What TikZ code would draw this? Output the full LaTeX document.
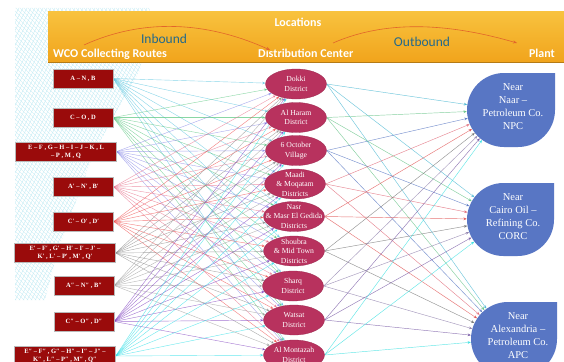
\documentclass[tikz,border=0pt]{standalone}
\usepackage{fontspec}
\setmainfont{Liberation Serif}
\newfontfamily\hdrfont{Carlito}
\usetikzlibrary{shapes.geometric,arrows.meta}
\pgfdeclarelayer{bglayer}
\pgfdeclarelayer{linelayer}
\pgfsetlayers{bglayer,linelayer,main}

\definecolor{boxred}{HTML}{9A0B0B}
\definecolor{ellred}{HTML}{B8325E}
\definecolor{plantblue}{HTML}{5876C4}
\definecolor{hdrtop}{HTML}{F8C23E}
\definecolor{hdrbot}{HTML}{F1A41C}
\definecolor{hdrteal}{HTML}{22698C}
\definecolor{curvec}{HTML}{E2652A}
\definecolor{hatchc}{HTML}{BDEAF4}
% route colours
\definecolor{c1}{HTML}{5CC6E0}
\definecolor{c2}{HTML}{5CC882}
\definecolor{c3}{HTML}{8C8CE8}
\definecolor{c4}{HTML}{E8708C}
\definecolor{c5}{HTML}{F04C4C}
\definecolor{c6}{HTML}{8A8A8A}
\definecolor{c7}{HTML}{9C9C9C}
\definecolor{c8}{HTML}{8040C0}
\definecolor{c9}{HTML}{30E0E8}
% distribution colours
\definecolor{e1}{HTML}{40B4D0}
\definecolor{e2}{HTML}{5EC080}
\definecolor{e3}{HTML}{5070C0}
\definecolor{e4}{HTML}{E06070}
\definecolor{e5}{HTML}{E04848}
\definecolor{e6}{HTML}{707070}
\definecolor{e7}{HTML}{8878A8}
\definecolor{e8}{HTML}{7050A0}
\definecolor{e9}{HTML}{30E0E0}

\newcommand\distnode[4]{%
  \node[distell] (#1) at (#2,#3) {};
  \node[disttext] (#1t) at (#2,#3) {#4};}

\begin{document}
\begin{tikzpicture}[x=1pt,y=1pt,
  routebox/.style={draw=gray!55, line width=0.4pt, fill=boxred, text=white,
    minimum height=19, inner sep=1pt, align=center,
    font=\fontsize{6.5}{8}\selectfont\bfseries},
  shortbox/.style={routebox, minimum width=60},
  widebox/.style={routebox, minimum width=101},
  distell/.style={ellipse, fill=ellred, draw=ellred!85!black, line width=0.3pt,
    minimum width=61, minimum height=30, inner sep=0},
  disttext/.style={text=white, align=center, font=\fontsize{7.7}{9.5}\selectfont, inner sep=0},
  plantanchor/.style={circle, inner sep=0},
  planttext/.style={text=white, align=center, font=\fontsize{10.5}{13}\selectfont, inner sep=0},
  hdrlabel/.style={text=white, font=\hdrfont\bfseries\fontsize{12}{14}\selectfont, inner sep=0},
  hdrflow/.style={text=hdrteal, font=\hdrfont\fontsize{13.5}{15}\selectfont, inner sep=0},
  hatchline/.style={draw=hatchc, line width=0.3pt},
  curvearrow/.style={draw=curvec, line width=0.6pt, -{Stealth[length=4pt,width=3pt]}},
  inlink/.style={line width=0.4pt, opacity=0.72, -{Stealth[length=3.2pt,width=2.6pt]}},
  outlink/.style={line width=0.45pt, opacity=0.75, -{Stealth[length=3.4pt,width=2.8pt]}}
]
\clip (0,0) rectangle (564,-361);
\useasboundingbox (0,0) rectangle (564,-361);

\begin{pgfonlayer}{bglayer}
  \fill[white] (0,0) rectangle (564,-361);
  % decorative hatch
  \begin{scope}
    \clip (15,-8) -- (150,-8) -- (140,-70) -- (95,-150) -- (58,-250) -- (45,-300) -- (15,-300) -- cycle;
    \foreach \i in {-320,-316,...,160} \draw[hatchline] (\i,-8) -- ++(300,-300);
    \foreach \i in {15,19,...,480} \draw[hatchline] (\i,-8) -- ++(-160,-300);
  \end{scope}
  % header bar
  \shade[top color=hdrtop, bottom color=hdrbot] (48,-12) rectangle (564,-62);
  \draw[hdrbot!75!black, line width=0.8pt] (48,-62.4) -- (564,-62.4);
\end{pgfonlayer}

% header texts
\node[hdrlabel] (loc) at (298,-22.5) {Locations};
\node[hdrlabel, anchor=base west] (wco) at (53,-57) {WCO Collecting Routes};
\node[hdrlabel, anchor=base west] (dc) at (258,-57) {Distribution Center};
\node[hdrlabel, anchor=base east] (pl) at (555,-57) {Plant};
\node[hdrflow] (inb) at (164,-39) {Inbound};
\node[hdrflow] (outb) at (422,-42) {Outbound};
\coordinate (ia) at (84,-45);
\coordinate (ib) at (270,-50);
\coordinate (oa) at (333,-43);
\coordinate (ob) at (517,-43);
\draw[curvearrow] (ia) .. controls (150,-15) and (215,-25) .. (ib);
\draw[curvearrow] (oa) .. controls (390,-18) and (455,-25) .. (ob);

% route boxes
\node[shortbox] (r1) at (83,-78.5) {A – N , B};
\node[shortbox] (r2) at (83,-117.5) {C – O , D};
\node[widebox]  (r3) at (66,-151.5) {E – F , G – H – I – J – K , L\\– P , M , Q};
\node[shortbox] (r4) at (83.5,-187) {A′ – N′ , B′};
\node[shortbox] (r5) at (83.5,-221.5) {C′ – O′ , D′};
\node[widebox]  (r6) at (65,-253) {E′ – F′ , G′ – H′ – I′ – J′ –\\K′ , L′ – P′ , M′ , Q′};
\node[shortbox] (r7) at (84,-285.5) {A″ – N″ , B″};
\node[shortbox] (r8) at (84,-321.5) {C″ – O″ , D″};
\node[widebox]  (r9) at (65,-356) {E″ – F″ , G″ – H″ – I″ – J″ –\\K″ , L″ – P″ , M″ , Q″};

% distribution centres
\distnode{d1}{296}{-84}{Dokki\\District}
\distnode{d2}{296}{-117.5}{Al Haram\\District}
\distnode{d3}{296}{-150.5}{6 October\\Village}
\distnode{d4}{295}{-184}{Maadi\\\& Moqatam\\Districts}
\distnode{d5}{294}{-216.5}{Nasr\\\& Masr El Gedida\\Districts}
\distnode{d6}{294}{-251}{Shoubra\\\& Mid Town\\Districts}
\distnode{d7}{293}{-286}{Sharq\\District}
\distnode{d8}{294}{-320}{Watsat\\District}
\distnode{d9}{294}{-355}{Al Montazah\\District}

% plants
\fill[plantblue] (555,-73) -- (555,-110) arc[start angle=0,end angle=-90,radius=37]
  -- (504,-147) arc[start angle=270,end angle=180,radius=37]
  arc[start angle=180,end angle=90,radius=37] -- cycle;
\fill[plantblue] (554,-183) -- (554,-219.5) arc[start angle=0,end angle=-90,radius=36.5]
  -- (503.5,-256) arc[start angle=270,end angle=180,radius=36.5]
  arc[start angle=180,end angle=90,radius=36.5] -- cycle;
\fill[plantblue] (557,-302) -- (557,-339) arc[start angle=0,end angle=-90,radius=37]
  -- (508,-376) arc[start angle=270,end angle=180,radius=37]
  arc[start angle=180,end angle=90,radius=37] -- cycle;
\node[plantanchor, minimum size=74] (p1) at (504,-110) {};
\node[plantanchor, minimum size=73] (p2) at (503.5,-219.5) {};
\node[plantanchor, minimum size=74] (p3) at (508,-339) {};
\node[planttext] (p1t) at (513,-107) {Near\\Naar –\\Petroleum Co.\\NPC};
\node[planttext] (p2t) at (513,-217) {Near\\Cairo Oil –\\Refining Co.\\CORC};
\node[planttext] (p3t) at (518,-335.5) {Near\\Alexandria –\\Petroleum Co.\\APC};

% connectors
\begin{pgfonlayer}{linelayer}
  \foreach \s in {1,...,9}{
    \foreach \t in {1,...,9}{
      \draw[inlink, color=c\s] (r\s.east) -- (d\t);
    }
  }
  \foreach \s in {1,...,9}{
    \foreach \t in {1,2,3}{
      \draw[outlink, color=e\s] (d\s.east) -- (p\t);
    }
  }
\end{pgfonlayer}
\end{tikzpicture}
\end{document}
